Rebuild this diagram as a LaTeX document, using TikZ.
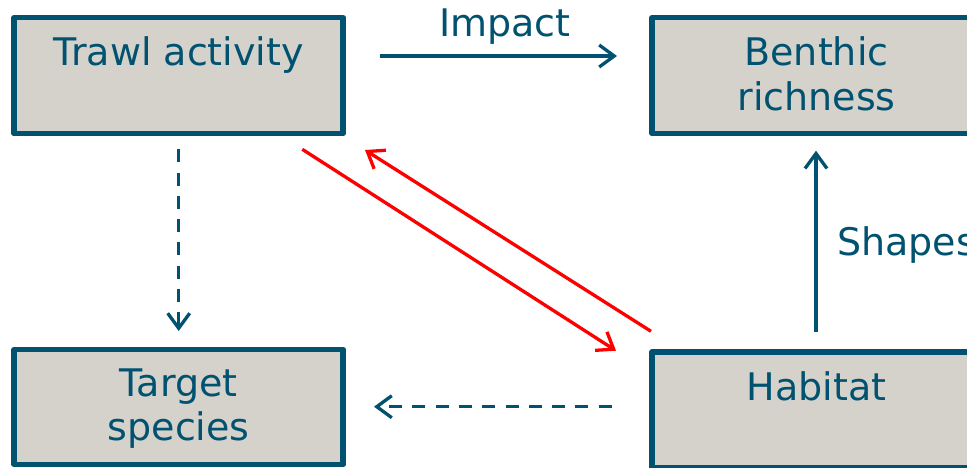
\documentclass[tikz,border=0pt]{standalone}
\usepackage{fontspec}
\setmainfont{DejaVu Sans}
\usetikzlibrary{arrows.meta,calc}
\definecolor{deepteal}{RGB}{0,82,112}
\definecolor{boxfill}{RGB}{212,210,202}
\definecolor{linkred}{RGB}{255,0,0}
\tikzset{
  box/.style={draw=deepteal, fill=boxfill, line width=5.5pt, line join=round,
    minimum width=329pt, minimum height=116pt, inner sep=0pt, outer sep=0pt},
  lbl/.style={text=deepteal, font=\fontsize{38}{44.5}\selectfont,
    align=center, anchor=base, inner sep=0pt},
  barb/.style={-{Straight Barb[length=15pt,width=22pt]}},
  flow/.style={draw=deepteal, line width=3.3pt, barb},
  dashflow/.style={flow, dash pattern=on 13pt off 10.3pt},
  redflow/.style={draw=linkred, line width=3.3pt, barb}
}
\begin{document}
\begin{tikzpicture}[x=1pt,y=-1pt]
  \useasboundingbox (0,0) rectangle (967,467);
  \clip (0,0) rectangle (967,467);

  % boxes
  \node[box] (trawl)   at (178.7,75.6) {};
  \node[box] (benthic) at (816.5,75.6) {};
  \node[box, minimum height=115pt] (target)  at (178.7,407) {};
  \node[box] (habitat) at (816.5,410) {};

  % box texts (base anchor sits on the last line)
  \node[lbl] (trawltxt)   at ($(trawl.north)+(0,47.5)$)   {Trawl activity};
  \node[lbl] (benthictxt) at ($(benthic.north)+(0,92.5)$) {Benthic\\richness};
  \node[lbl] (targettxt)  at ($(target.north)+(0,91)$)    {Target\\species};
  \node[lbl] (habitattxt) at ($(habitat.north)+(0,48)$)   {Habitat};

  % connectors
  \draw[flow] ($(trawl.east)+(36.8,-19.6)$) -- ($(benthic.west)+(-35,-19.6)$);
  \node[lbl] (impact) at (505,36) {Impact};

  \draw[dashflow] ($(trawl.south)+(0,15.6)$) -- ($(target.north)+(0,-18.5)$);
  \draw[dashflow] ($(habitat.west)+(-40.3,-3.3)$) -- ($(target.east)+(30.8,-0.3)$);

  \draw[flow] ($(habitat.north)+(-0.5,-20.3)$) -- ($(benthic.south)+(-0.5,17.1)$);
  \node[lbl, anchor=base west] (shapes) at (837,255) {Shapes};

  \draw[redflow] ($(trawl.south east)+(-40.9,15.7)$) -- ($(habitat.north west)+(-36,-1.3)$);
  \draw[redflow] ($(habitat.north west)+(-1,-20.7)$) -- ($(trawl.south east)+(21.8,16.4)$);
\end{tikzpicture}
\end{document}
